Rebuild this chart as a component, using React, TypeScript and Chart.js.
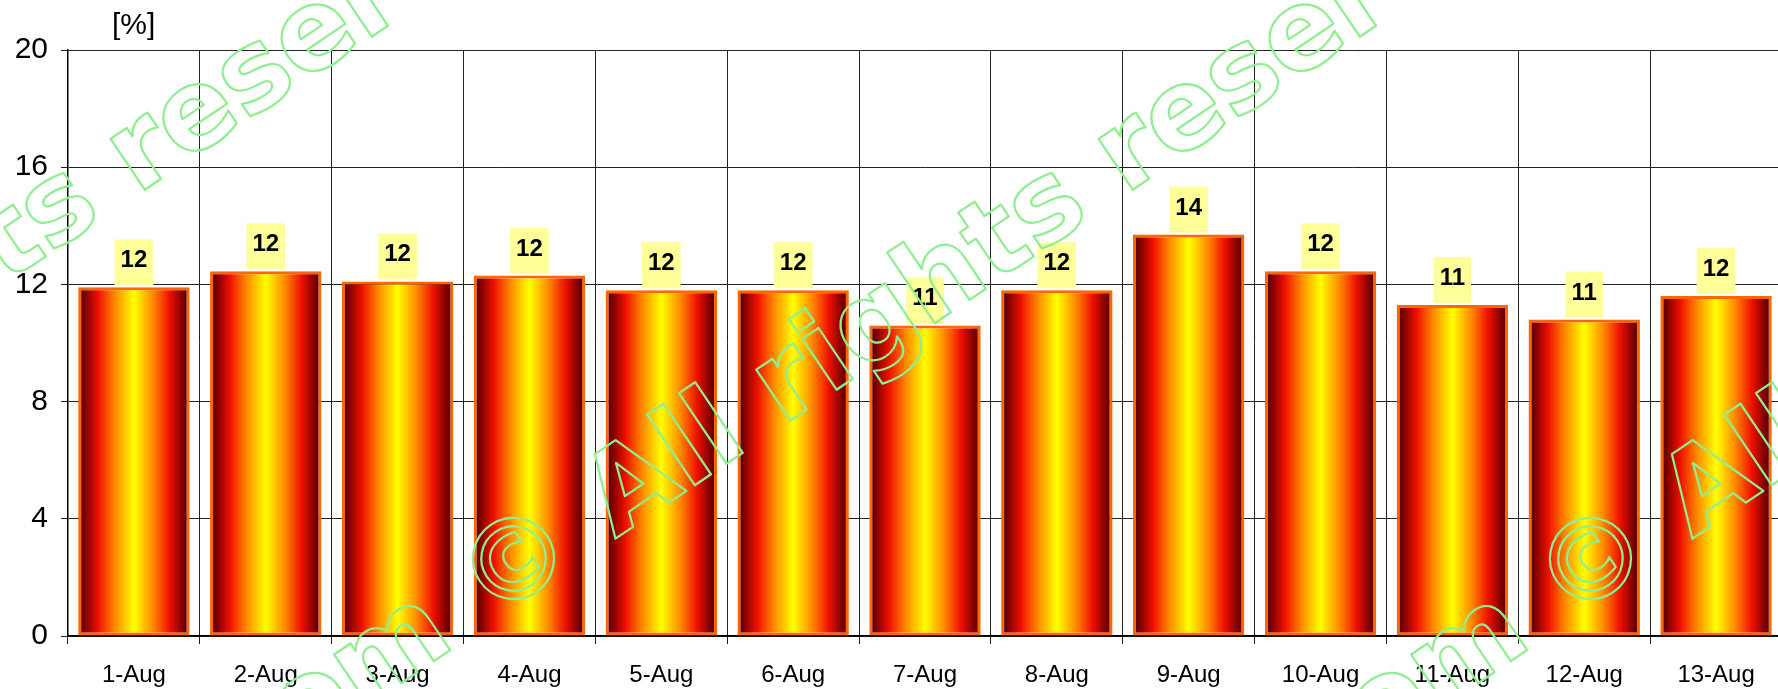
import { useEffect, useRef } from 'react';
import { Chart, registerables } from 'chart.js';

Chart.register(...registerables);

const categories = ['1-Aug', '2-Aug', '3-Aug', '4-Aug', '5-Aug', '6-Aug', '7-Aug', '8-Aug', '9-Aug', '10-Aug', '11-Aug', '12-Aug', '13-Aug'];
const values = [11.9, 12.45, 12.1, 12.3, 11.8, 11.8, 10.6, 11.8, 13.7, 12.45, 11.3, 10.8, 11.6];
const yTicks = [0, 4, 8, 12, 16, 20];
const yUnit = '[%]';
const watermarkText = 'com \u00A9 All rights reserved';

const FONT = '"Liberation Sans", Arial, sans-serif';
const BAR_PCT = 0.845;

const gradientStops: [number, string][] = [
  [0, '#4a0000'],
  [0.05, '#720000'],
  [0.18, '#f01000'],
  [0.33, '#ff8a00'],
  [0.5, '#ffff00'],
  [0.67, '#ff8a00'],
  [0.82, '#f01000'],
  [0.95, '#720000'],
  [1, '#4a0000'],
];

const labelPlugin = {
  id: 'valueLabels',
  afterDatasetsDraw(chart: any) {
    const ctx = chart.ctx;
    const meta = chart.getDatasetMeta(0);
    ctx.save();
    ctx.font = `bold 24px ${FONT}`;
    ctx.textAlign = 'center';
    ctx.textBaseline = 'alphabetic';
    meta.data.forEach((el: any, i: number) => {
      const txt = values[i].toFixed(0);
      const w = ctx.measureText(txt).width + 12;
      const h = 46;
      const bottom = el.y - 2;
      ctx.fillStyle = '#ffff99';
      ctx.fillRect(el.x - w / 2, bottom - h, w, h);
      ctx.fillStyle = '#000';
      ctx.fillText(txt, el.x, bottom - 18);
    });
    ctx.restore();
  },
};

const decorPlugin = {
  id: 'decor',
  afterDraw(chart: any) {
    const ctx = chart.ctx;
    const area = chart.chartArea;
    ctx.save();
    ctx.fillStyle = '#000';
    ctx.font = `30px ${FONT}`;
    ctx.textAlign = 'left';
    ctx.textBaseline = 'alphabetic';
    ctx.fillText(yUnit, area.left + 44, 34);
    ctx.restore();

    // watermark
    ctx.save();
    ctx.font = 'bold 112px "DejaVu Sans"';
    ctx.strokeStyle = '#8fee8f';
    ctx.lineWidth = 2.2;
    ctx.lineJoin = 'round';
    ctx.textBaseline = 'middle';
    ctx.textAlign = 'left';
    const pre = ctx.measureText('com ').width;
    const cw = ctx.measureText('\u00A9').width;
    const anchors = [
      [area.left + 452, 568],
      [area.left + 1529, 568],
      [area.left - 536, 568],
    ];
    anchors.forEach(([ax, ay]) => {
      ctx.save();
      ctx.translate(ax, ay);
      ctx.rotate((-34 * Math.PI) / 180);
      ctx.strokeText(watermarkText, -pre - cw / 2, 0);
      ctx.restore();
    });
    ctx.restore();
  },
};

export default function App() {
  const ref = useRef<HTMLCanvasElement | null>(null);
  useEffect(() => {
    if (!ref.current) return;
    const chart = new Chart(ref.current, {
      type: 'bar',
      data: {
        labels: categories,
        datasets: [
          {
            data: values,
            backgroundColor: (c: any) => {
              const ch = c.chart;
              const xs = ch.scales?.x;
              if (!xs || !ch.chartArea || c.dataIndex === undefined) return '#ff0000';
              const cx = xs.getPixelForValue(c.dataIndex);
              const w = (xs.width / categories.length) * BAR_PCT;
              const g = ch.ctx.createLinearGradient(cx - w / 2, 0, cx + w / 2, 0);
              gradientStops.forEach(([o, col]) => g.addColorStop(o, col));
              return g;
            },
            borderColor: '#ff6600',
            borderWidth: 3,
            borderSkipped: false,
            barPercentage: BAR_PCT,
            categoryPercentage: 1,
          },
        ],
      },
      options: {
        responsive: false,
        animation: false,
        devicePixelRatio: 1,
        layout: { padding: { top: 50, right: 8, left: 0, bottom: 0 } },
        plugins: {
          legend: { display: false },
          tooltip: { enabled: false },
          title: { display: false },
        },
        scales: {
          x: {
            grid: { color: '#222', lineWidth: 1, tickLength: 8, offset: true },
            border: { color: '#000', width: 1.5 },
            ticks: {
              color: '#000',
              font: { family: FONT, size: 24 },
              padding: 17,
              maxRotation: 0,
              autoSkip: false,
            },
            afterFit: (s: any) => {
              s.height = 53;
            },
          },
          y: {
            min: 0,
            max: 20,
            afterBuildTicks: (s: any) => {
              s.ticks = yTicks.map((v) => ({ value: v }));
            },
            grid: { color: '#222', lineWidth: 1, tickLength: 7 },
            border: { color: '#000', width: 1.5 },
            ticks: {
              color: '#000',
              font: { family: FONT, size: 30 },
              padding: 13,
            },
            afterFit: (s: any) => {
              s.width = 68;
            },
          },
        },
      },
      plugins: [labelPlugin, decorPlugin],
    });
    return () => chart.destroy();
  }, []);

  return (
    <div
      style={{
        position: 'fixed',
        left: 0,
        top: 0,
        width: 1778,
        height: 689,
        overflow: 'hidden',
        background: '#fff',
      }}
    >
      <canvas ref={ref} width={1790} height={689} style={{ display: 'block' }} />
    </div>
  );
}
